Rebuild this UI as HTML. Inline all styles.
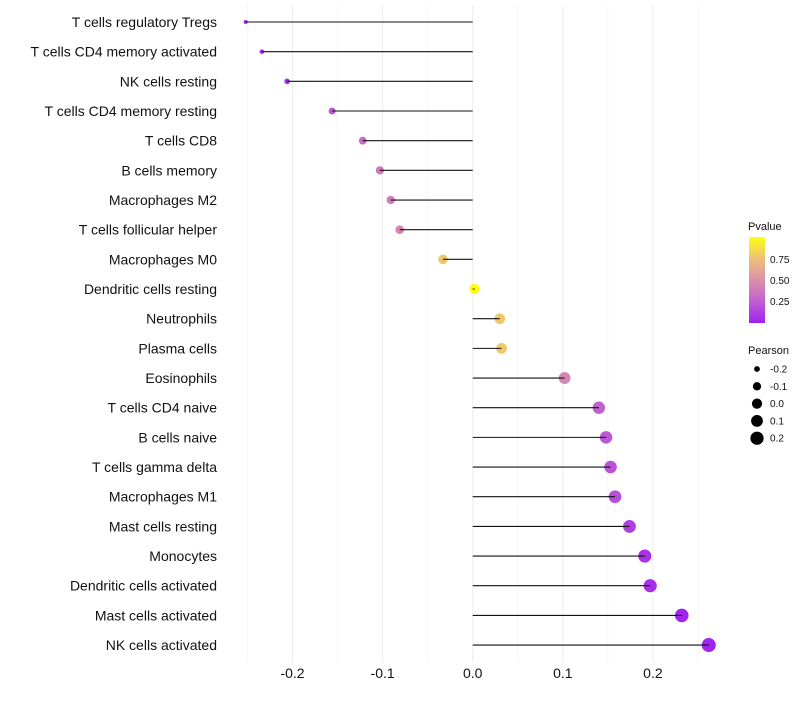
<!DOCTYPE html>
<html><head><meta charset="utf-8"><style>
body{margin:0;background:#fff;font-family:"Liberation Sans",sans-serif}
</style></head><body>
<svg id="c" width="800" height="700" xmlns="http://www.w3.org/2000/svg">
<defs><linearGradient id="pg" x1="0" y1="1" x2="0" y2="0">
<stop offset="0" stop-color="#a020f0"/><stop offset="0.25" stop-color="#c060d0"/><stop offset="0.5" stop-color="#dc90a8"/><stop offset="0.75" stop-color="#eec078"/><stop offset="1" stop-color="#ffff10"/>
</linearGradient></defs>
<g id="grid"></g><g id="dots"></g><g id="marks"></g><g id="labels"></g>
<g font-size="10" fill="#111">
<text x="748" y="230" font-size="11">Pvalue</text>
<rect x="749" y="237" width="16" height="86" fill="url(#pg)"/>
<text x="770" y="263">0.75</text><text x="770" y="284">0.50</text><text x="770" y="305">0.25</text>
</g>
<g font-size="10" fill="#111" id="sleg">
<text x="748" y="354" font-size="11">Pearson</text>
</g>
</svg>
<script>
const categories=["T cells regulatory  Tregs","T cells CD4 memory activated","NK cells resting","T cells CD4 memory resting","T cells CD8","B cells memory","Macrophages M2","T cells follicular helper","Macrophages M0","Dendritic cells resting","Neutrophils","Plasma cells","Eosinophils","T cells CD4 naive","B cells naive","T cells gamma delta","Macrophages M1","Mast cells resting","Monocytes","Dendritic cells activated","Mast cells activated","NK cells activated"];
const pearson=[-0.252,-0.234,-0.206,-0.156,-0.122,-0.103,-0.091,-0.081,-0.033,0.002,0.030,0.032,0.102,0.140,0.148,0.153,0.158,0.174,0.191,0.197,0.232,0.262];
const pvalue=[0.03,0.05,0.06,0.22,0.32,0.38,0.42,0.45,0.78,0.99,0.78,0.78,0.45,0.25,0.22,0.2,0.18,0.12,0.07,0.06,0.02,0.01];
const xTicks=[-0.2,-0.1,0.0,0.1,0.2];
const xMinor=[-0.25,-0.15,-0.05,0.05,0.15,0.25];
const legendSizes=[-0.2,-0.1,0.0,0.1,0.2];
const NS="http://www.w3.org/2000/svg";
const x=v=>472.7+v*901;
const y=i=>22+i*29.67;
const rad=v=>Math.sqrt(4+Math.max(0,(v+0.25))/0.51*45);
const stops=[[0,[160,32,240]],[0.25,[192,96,208]],[0.5,[220,144,168]],[0.75,[238,192,120]],[1,[255,255,16]]];
function col(p){for(let k=1;k<stops.length;k++){if(p<=stops[k][0]){const a=stops[k-1],b=stops[k],t=(p-a[0])/(b[0]-a[0]);return 'rgb('+a[1].map((c,j)=>Math.round(c+(b[1][j]-c)*t)).join(',')+')';}}return 'rgb(255,255,16)';}
function mk(t,at,par){const e=document.createElementNS(NS,t);for(const k in at)e.setAttribute(k,at[k]);par.appendChild(e);return e;}
const G=document.getElementById('grid'),D=document.getElementById('dots'),M=document.getElementById('marks'),L=document.getElementById('labels');
xMinor.forEach(v=>{const l=mk('line',{x1:x(v),x2:x(v),y1:5,y2:662,stroke:'#f5f5f5','stroke-width':1},G);

});
xTicks.forEach(v=>{const l=mk('line',{x1:x(v),x2:x(v),y1:5,y2:662,stroke:'#ededed','stroke-width':1},G);


const t=mk('text',{x:x(v),y:678,'text-anchor':'middle','font-size':14,fill:'#111'},L);t.textContent=v.toFixed(1);

});
categories.forEach((c,i)=>{
const d=mk('circle',{cx:x(pearson[i]),cy:y(i),r:rad(pearson[i]),fill:col(pvalue[i])},D);


const l=mk('line',{x1:x(0),x2:x(pearson[i]),y1:y(i),y2:y(i),stroke:'#111','stroke-width':1.1},M);


const t=mk('text',{x:217,y:y(i)+5,'text-anchor':'end','font-size':14,fill:'#111'},L);t.textContent=c;

});
const S=document.getElementById('sleg');
legendSizes.forEach((v,k)=>{const cy=369+k*17.3;
const d=mk('circle',{cx:757,cy:cy,r:rad(v),fill:'#000'},S);


const t=mk('text',{x:770,y:cy+3.5},S);t.textContent=v.toFixed(1);

});
</script>
</body></html>
